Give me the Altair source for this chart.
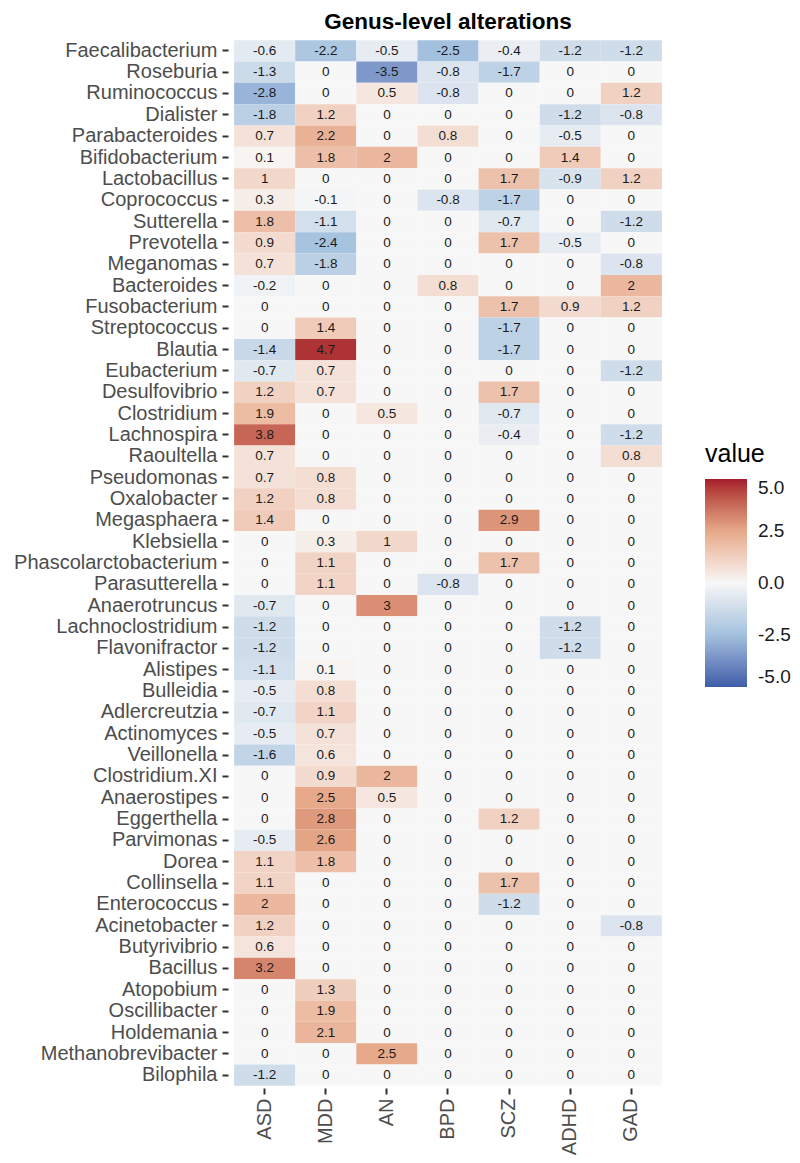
import altair as alt
import pandas as pd

genera = [
    "Faecalibacterium", "Roseburia", "Ruminococcus", "Dialister", "Parabacteroides",
    "Bifidobacterium", "Lactobacillus", "Coprococcus", "Sutterella", "Prevotella",
    "Meganomas", "Bacteroides", "Fusobacterium", "Streptococcus", "Blautia",
    "Eubacterium", "Desulfovibrio", "Clostridium", "Lachnospira", "Raoultella",
    "Pseudomonas", "Oxalobacter", "Megasphaera", "Klebsiella", "Phascolarctobacterium",
    "Parasutterella", "Anaerotruncus", "Lachnoclostridium", "Flavonifractor", "Alistipes",
    "Bulleidia", "Adlercreutzia", "Actinomyces", "Veillonella", "Clostridium.XI",
    "Anaerostipes", "Eggerthella", "Parvimonas", "Dorea", "Collinsella",
    "Enterococcus", "Acinetobacter", "Butyrivibrio", "Bacillus", "Atopobium",
    "Oscillibacter", "Holdemania", "Methanobrevibacter", "Bilophila",
]

disorders = ["ASD", "MDD", "AN", "BPD", "SCZ", "ADHD", "GAD"]

ASD = [-0.6, -1.3, -2.8, -1.8, 0.7, 0.1, 1, 0.3, 1.8, 0.9, 0.7, -0.2, 0, 0, -1.4,
       -0.7, 1.2, 1.9, 3.8, 0.7, 0.7, 1.2, 1.4, 0, 0, 0, -0.7, -1.2, -1.2, -1.1,
       -0.5, -0.7, -0.5, -1.6, 0, 0, 0, -0.5, 1.1, 1.1, 2, 1.2, 0.6, 3.2, 0,
       0, 0, 0, -1.2]
MDD = [-2.2, 0, 0, 1.2, 2.2, 1.8, 0, -0.1, -1.1, -2.4, -1.8, 0, 0, 1.4, 4.7,
       0.7, 0.7, 0, 0, 0, 0.8, 0.8, 0, 0.3, 1.1, 1.1, 0, 0, 0, 0.1,
       0.8, 1.1, 0.7, 0.6, 0.9, 2.5, 2.8, 2.6, 1.8, 0, 0, 0, 0, 0, 1.3,
       1.9, 2.1, 0, 0]
AN = [-0.5, -3.5, 0.5, 0, 0, 2, 0, 0, 0, 0, 0, 0, 0, 0, 0,
      0, 0, 0.5, 0, 0, 0, 0, 0, 1, 0, 0, 3, 0, 0, 0,
      0, 0, 0, 0, 2, 0.5, 0, 0, 0, 0, 0, 0, 0, 0, 0,
      0, 0, 2.5, 0]
BPD = [-2.5, -0.8, -0.8, 0, 0.8, 0, 0, -0.8, 0, 0, 0, 0.8, 0, 0, 0,
       0, 0, 0, 0, 0, 0, 0, 0, 0, 0, -0.8, 0, 0, 0, 0,
       0, 0, 0, 0, 0, 0, 0, 0, 0, 0, 0, 0, 0, 0, 0,
       0, 0, 0, 0]
SCZ = [-0.4, -1.7, 0, 0, 0, 0, 1.7, -1.7, -0.7, 1.7, 0, 0, 1.7, -1.7, -1.7,
       0, 1.7, -0.7, -0.4, 0, 0, 0, 2.9, 0, 1.7, 0, 0, 0, 0, 0,
       0, 0, 0, 0, 0, 0, 1.2, 0, 0, 1.7, -1.2, 0, 0, 0, 0,
       0, 0, 0, 0]
ADHD = [-1.2, 0, 0, -1.2, -0.5, 1.4, -0.9, 0, 0, -0.5, 0, 0, 0.9, 0, 0,
        0, 0, 0, 0, 0, 0, 0, 0, 0, 0, 0, 0, -1.2, -1.2, 0,
        0, 0, 0, 0, 0, 0, 0, 0, 0, 0, 0, 0, 0, 0, 0,
        0, 0, 0, 0]
GAD = [-1.2, 0, 1.2, -0.8, 0, 0, 1.2, 0, -1.2, 0, -0.8, 2, 1.2, 0, 0,
       -1.2, 0, 0, -1.2, 0.8, 0, 0, 0, 0, 0, 0, 0, 0, 0, 0,
       0, 0, 0, 0, 0, 0, 0, 0, 0, 0, 0, -0.8, 0, 0, 0,
       0, 0, 0, 0]

series = {"ASD": ASD, "MDD": MDD, "AN": AN, "BPD": BPD, "SCZ": SCZ, "ADHD": ADHD, "GAD": GAD}

legend_values = [-5, -2.5, 0, 2.5, 5]
color_stops = ["#3E5EA9", "#A3C1DE", "#F7F7F7", "#E6A98A", "#A51C2B"]

rows = []
for d in disorders:
    for g, v in zip(genera, series[d]):
        rows.append({"genus": g, "disorder": d, "value": v, "label": f"{v:g}"})
df = pd.DataFrame(rows)

FONT = "Liberation Sans"

base = alt.Chart(df).encode(
    x=alt.X("disorder:N", sort=disorders, title=None,
            scale=alt.Scale(paddingInner=0, paddingOuter=0.1),
            axis=alt.Axis(labelAngle=-90, labelFontSize=20, labelColor="#4D4D4D",
                          labelFont=FONT, tickSize=6, tickWidth=2, tickColor="#333333",
                          labelPadding=4, domain=False, grid=False)),
    y=alt.Y("genus:N", sort=genera, title=None,
            scale=alt.Scale(paddingInner=0, paddingOuter=0.1),
            axis=alt.Axis(labelFontSize=20, labelColor="#4D4D4D", labelFont=FONT,
                          tickSize=6, tickWidth=2, tickColor="#333333",
                          labelPadding=5, domain=False, grid=False, labelLimit=300)),
)

rects = base.mark_rect().encode(
    color=alt.Color("value:Q",
                    scale=alt.Scale(domain=legend_values, range=color_stops, interpolate="lab"),
                    legend=alt.Legend(title="value", orient="none", legendX=477, legendY=404,
                                      direction="vertical", gradientLength=208,
                                      gradientThickness=42, values=legend_values,
                                      labelExpr="replace(format(datum.value, '.1f'), '\u2212', '-')",
                                      labelFontSize=19, labelFont=FONT,
                                      labelColor="#1A1A1A", labelOffset=11,
                                      titleFontSize=25, titleFont=FONT,
                                      titleFontWeight="normal", titleColor="#000000",
                                      titlePadding=12, gradientStrokeWidth=0,
                                      labelOverlap=False))
)

texts = base.mark_text(fontSize=13.5, font=FONT, color="#1A1A1A").encode(
    text="label:N"
)

chart = (rects + texts).properties(
    width=440, height=1050,
    title=alt.TitleParams("Genus-level alterations", fontSize=22.5, fontWeight="bold",
                          font=FONT, color="#000000", anchor="middle", offset=5),
    autosize=alt.AutoSizeParams(type="none"),
    padding={"left": 220, "top": 30, "right": 124, "bottom": 67},
).configure_view(stroke=None)

chart.save("out.html", embed_options={"renderer": "svg", "actions": False})
